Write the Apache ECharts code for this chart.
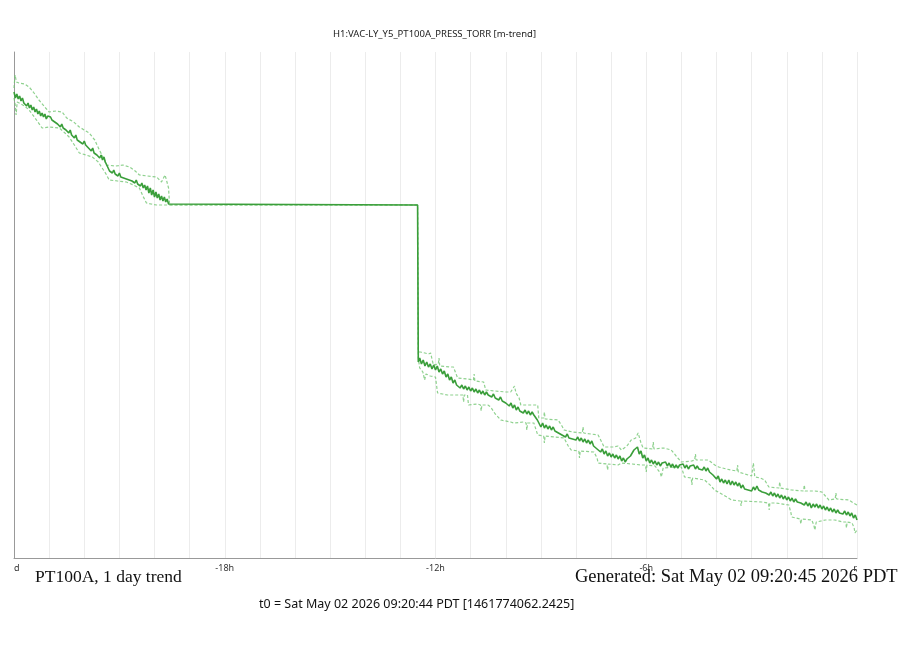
<!DOCTYPE html>
<html>
<head>
<meta charset="utf-8">
<title>PT100A, 1 day trend</title>
<script src="https://cdn.jsdelivr.net/npm/echarts@6/dist/echarts.min.js"></script>
<style>
    html, body { margin: 0; padding: 0; background: #fff; }
    #chart { width: 916px; height: 653px; }
</style>
</head>
<body>
<div id="chart"></div>
<script>
// 数据: [小时, 数值] (y 轴无刻度, 相对单位)
var tickHours = [-24, -18, -12, -6, 0];
var tickLabels = ['d', '-18h', '-12h', '-6h', 'r'];

// 平均值
var meanTrend = [
    [-24.00,466],[-23.96,460],[-23.92,464],[-23.88,459],[-23.84,462],[-23.80,457],[-23.76,460],[-23.72,455],
    [-23.68,457],[-23.64,452],[-23.60,455],[-23.56,450],[-23.52,453],[-23.48,448],[-23.44,451],[-23.40,446],
    [-23.36,449],[-23.32,444],[-23.28,447],[-23.24,442],[-23.20,445],[-23.16,441],[-23.12,444],[-23.08,439],
    [-23.04,442],[-23.00,440],[-22.96,441],[-22.92,438],[-22.88,440],[-22.84,436],[-22.80,438],[-22.76,434],
    [-22.72,436],[-22.68,431],[-22.64,434],[-22.60,430],[-22.56,432],[-22.52,428],[-22.48,430],[-22.44,425],
    [-22.40,428],[-22.36,423],[-22.32,425],[-22.28,420],[-22.24,423],[-22.20,418],[-22.16,420],[-22.12,416],
    [-22.08,418],[-22.04,414],[-22.00,417],[-21.96,413],[-21.92,415],[-21.88,410],[-21.84,412],[-21.80,407],
    [-21.76,410],[-21.72,405],[-21.68,407],[-21.64,403],[-21.60,405],[-21.56,400],[-21.52,403],[-21.48,398],
    [-21.44,401],[-21.40,396],[-21.36,398],[-21.32,390],[-21.28,387],[-21.24,389],[-21.20,385],[-21.16,388],
    [-21.12,384],[-21.08,386],[-21.04,382],[-21.00,385],[-20.96,381],[-20.92,383],[-20.88,380],[-20.84,382],
    [-20.80,379],[-20.76,381],[-20.72,378],[-20.68,380],[-20.64,377],[-20.60,379],[-20.56,375],[-20.52,378],
    [-20.48,374],[-20.44,376],[-20.40,372],[-20.36,375],[-20.32,370],[-20.28,373],[-20.24,368],[-20.20,372],
    [-20.16,365],[-20.12,370],[-20.08,363],[-20.04,368],[-20.00,361],[-19.96,366],[-19.92,360],[-19.88,364],
    [-19.84,358],[-19.80,362],[-19.76,357],[-19.72,361],[-19.68,356],[-19.64,359],[-19.60,354],[-19.57,353],
    [-12.51,353],
    [-12.49,196],[-12.45,200],[-12.40,194],[-12.35,198],[-12.30,192],[-12.25,196],[-12.20,191],[-12.15,194],
    [-12.10,189],[-12.05,193],[-12.00,188],[-11.95,192],[-11.90,186],[-11.85,189],[-11.80,184],[-11.75,187],
    [-11.70,181],[-11.65,184],[-11.60,178],[-11.55,181],[-11.50,175],[-11.45,178],[-11.40,173],[-11.35,175],
    [-11.30,170],[-11.25,173],[-11.20,169],[-11.15,172],[-11.10,168],[-11.05,171],[-11.00,167],[-10.95,170],
    [-10.90,166],[-10.85,169],[-10.80,165],[-10.75,168],[-10.70,164],[-10.65,167],[-10.60,163],[-10.55,166],
    [-10.50,163],[-10.45,165],[-10.40,161],[-10.35,164],[-10.30,160],[-10.25,162],[-10.20,158],[-10.15,161],
    [-10.10,157],[-10.05,159],[-10.00,155],[-9.95,157],[-9.90,152],[-9.85,155],[-9.80,150],[-9.75,153],
    [-9.70,148],[-9.65,151],[-9.60,147],[-9.55,149],[-9.50,145],[-9.45,148],[-9.40,144],[-9.35,147],
    [-9.30,143],[-9.25,146],[-9.20,143],[-9.15,145],[-9.10,138],[-9.05,136],[-9.00,131],[-8.95,135],
    [-8.90,130],[-8.85,133],[-8.80,129],[-8.75,132],[-8.70,128],[-8.65,131],[-8.60,127],[-8.55,129],
    [-8.50,125],[-8.45,127],[-8.40,123],[-8.35,125],[-8.30,121],[-8.25,124],[-8.20,120],[-8.15,122],
    [-8.10,119],[-8.05,121],[-8.00,118],[-7.95,121],[-7.90,117],[-7.85,120],[-7.80,116],[-7.75,119],
    [-7.70,115],[-7.65,118],[-7.60,114],[-7.55,117],[-7.50,112],[-7.45,114],[-7.40,109],[-7.35,111],
    [-7.30,106],[-7.25,109],[-7.20,104],[-7.15,107],[-7.10,102],[-7.05,105],[-7.00,101],[-6.95,104],
    [-6.90,100],[-6.85,103],[-6.80,99],[-6.75,102],[-6.70,97],[-6.65,100],[-6.60,96],[-6.55,99],
    [-6.50,97],[-6.45,102],[-6.40,104],[-6.35,108],[-6.30,106],[-6.25,111],[-6.20,104],[-6.15,107],
    [-6.10,100],[-6.05,103],[-6.00,97],[-5.95,100],[-5.90,95],[-5.85,98],[-5.80,94],[-5.75,97],
    [-5.70,93],[-5.65,96],[-5.60,92],[-5.55,95],[-5.50,93],[-5.45,96],[-5.40,92],[-5.35,95],
    [-5.30,91],[-5.25,94],[-5.20,90],[-5.15,93],[-5.10,90],[-5.05,93],[-5.00,91],[-4.95,94],
    [-4.90,90],[-4.85,93],[-4.80,89],[-4.75,92],[-4.70,90],[-4.65,93],[-4.60,89],[-4.55,92],
    [-4.50,89],[-4.45,91],[-4.40,88],[-4.35,91],[-4.30,87],[-4.25,90],[-4.20,86],[-4.15,88],
    [-4.10,83],[-4.05,85],[-4.00,79],[-3.95,82],[-3.90,76],[-3.85,79],[-3.80,75],[-3.75,78],
    [-3.70,74],[-3.65,78],[-3.60,73],[-3.55,77],[-3.50,73],[-3.45,76],[-3.40,72],[-3.35,75],
    [-3.30,70],[-3.25,73],[-3.20,69],[-3.15,71],[-3.10,68],[-3.05,70],[-3.00,67],[-2.95,71],
    [-2.90,68],[-2.85,72],[-2.80,68],[-2.75,70],[-2.70,66],[-2.65,68],[-2.60,65],[-2.55,67],
    [-2.50,63],[-2.45,66],[-2.40,62],[-2.35,65],[-2.30,61],[-2.25,64],[-2.20,60],[-2.15,63],
    [-2.10,59],[-2.05,62],[-2.00,58],[-1.95,61],[-1.90,57],[-1.85,60],[-1.80,56],[-1.75,59],
    [-1.70,56],[-1.65,58],[-1.60,55],[-1.55,57],[-1.50,53],[-1.45,56],[-1.40,52],[-1.35,55],
    [-1.30,50],[-1.25,54],[-1.20,51],[-1.15,54],[-1.10,50],[-1.05,53],[-1.00,49],[-0.95,52],
    [-0.90,48],[-0.85,51],[-0.80,47],[-0.75,50],[-0.70,46],[-0.65,49],[-0.60,45],[-0.55,48],
    [-0.50,45],[-0.45,47],[-0.40,44],[-0.35,47],[-0.30,43],[-0.25,46],[-0.20,42],[-0.15,45],
    [-0.10,40],[-0.05,43],[0.00,38]
];

// 最大值
var maxTrend = [
    [-24.00,470],[-23.97,483],[-23.93,476],[-23.86,475],[-23.70,474],[-23.57,471],[-23.45,466],[-23.29,458],
    [-23.10,450],[-23.00,446],[-22.80,447],[-22.63,446],[-22.50,440],[-22.30,436],[-22.14,431],[-22.00,428],
    [-21.86,425],[-21.70,418],[-21.57,408],[-21.45,400],[-21.37,393],[-21.10,392],[-20.90,393],[-20.71,391],
    [-20.55,387],[-20.43,383],[-20.20,382],[-19.94,381],[-19.80,376],[-19.70,383],[-19.66,378],[-19.60,370],
    [-19.57,353],[-12.51,353],
    [-12.49,206],[-12.43,206],[-12.30,205],[-12.20,204],[-12.14,205],[-12.06,193],[-11.92,194],[-11.90,200],
    [-11.88,192],[-11.60,191],[-11.49,191],[-11.37,180],[-11.10,179],[-10.92,178],[-10.90,184],[-10.88,177],
    [-10.63,176],[-10.57,168],[-10.30,167],[-10.00,166],[-9.86,166],[-9.75,172],[-9.71,165],[-9.62,160],
    [-9.57,153],[-9.30,153],[-9.09,153],[-9.06,140],[-8.92,140],[-8.90,146],[-8.88,139],[-8.51,138],
    [-8.40,132],[-8.34,128],[-8.10,126],[-7.82,125],[-7.80,131],[-7.78,125],[-7.37,123],[-7.27,116],
    [-7.20,111],[-6.95,111],[-6.80,112],[-6.71,108],[-6.55,112],[-6.43,118],[-6.30,120],[-6.23,125],
    [-6.15,115],[-6.09,110],[-5.82,109],[-5.80,116],[-5.78,109],[-5.50,110],[-5.29,108],[-5.10,100],
    [-5.00,96],[-4.70,97],[-4.62,98],[-4.60,104],[-4.58,98],[-4.23,98],[-4.05,93],[-3.94,91],
    [-3.60,88],[-3.42,87],[-3.40,93],[-3.38,86],[-3.00,82],[-2.95,95],[-2.91,81],[-2.75,80],
    [-2.63,78],[-2.51,71],[-2.22,70],[-2.20,76],[-2.18,70],[-1.86,68],[-1.52,67],[-1.50,73],
    [-1.48,67],[-1.20,67],[-1.00,66],[-0.90,62],[-0.80,58],[-0.62,59],[-0.60,65],[-0.58,59],
    [-0.23,58],[-0.10,55],[0.00,53]
];

// 最小值
var minTrend = [
    [-24.00,460],[-23.96,452],[-23.94,443],[-23.91,456],[-23.86,458],[-23.70,452],[-23.57,448],[-23.40,440],
    [-23.20,430],[-23.00,431],[-22.71,430],[-22.55,425],[-22.43,421],[-22.30,414],[-22.14,405],[-21.95,403],
    [-21.77,401],[-21.60,396],[-21.49,390],[-21.38,384],[-21.29,378],[-21.05,377],[-20.80,376],[-20.60,373],
    [-20.43,370],[-20.33,362],[-20.23,355],[-20.10,354],[-19.94,353],[-19.66,353],[-12.51,353],
    [-12.49,200],[-12.45,190],[-12.43,188],[-12.36,186],[-12.31,178],[-12.27,184],[-12.15,182],[-12.00,181],
    [-11.96,170],[-11.94,165],[-11.80,164],[-11.66,163],[-11.40,163],[-11.22,163],[-11.20,156],[-11.18,163],
    [-11.09,163],[-11.06,153],[-10.80,154],[-10.72,153],[-10.70,147],[-10.68,153],[-10.51,153],[-10.43,151],
    [-10.30,144],[-10.14,138],[-9.86,136],[-9.77,135],[-9.50,136],[-9.42,135],[-9.40,128],[-9.38,135],
    [-9.20,135],[-9.09,123],[-8.92,122],[-8.90,115],[-8.88,122],[-8.60,121],[-8.34,120],[-8.22,112],
    [-8.14,108],[-7.92,107],[-7.90,100],[-7.88,107],[-7.49,106],[-7.40,100],[-7.37,95],[-7.12,94],
    [-7.10,88],[-7.08,94],[-6.80,93],[-6.71,95],[-6.40,94],[-6.14,93],[-6.02,93],[-6.00,86],
    [-5.98,93],[-5.75,92],[-5.60,85],[-5.57,81],[-5.52,90],[-5.20,91],[-5.00,91],[-4.91,81],
    [-4.72,80],[-4.70,73],[-4.68,80],[-4.34,78],[-4.15,72],[-4.06,68],[-3.80,63],[-3.57,58],
    [-3.32,57],[-3.30,52],[-3.28,57],[-2.71,56],[-2.52,55],[-2.50,48],[-2.48,55],[-2.30,55],
    [-1.94,53],[-1.88,45],[-1.86,41],[-1.62,39],[-1.60,34],[-1.58,39],[-1.29,38],[-1.23,33],
    [-1.20,28],[-1.16,36],[-0.90,38],[-0.63,38],[-0.40,36],[-0.32,36],[-0.30,30],[-0.28,36],
    [-0.14,35],[-0.08,30],[-0.06,25],[0.00,28]
];

var myChart = echarts.init(document.getElementById('chart'));

function envelope(name, data) {
    return {
        name: name,
        type: 'line',
        data: data,
        symbol: 'none',
        z: 2,
        lineStyle: {
            color: '#72c672',
            width: 1.2,
            type: [3, 2],
            opacity: 0.8
        }
    };
}

var option = {
    backgroundColor: '#fff',
    animation: false,
    grid: {
        left: 14,
        right: 59,
        top: 52,
        bottom: 95
    },
    xAxis: {
        type: 'value',
        min: -24,
        max: 0,
        interval: 1,
        axisLine: {
            onZero: false,
            lineStyle: { color: '#999', width: 1 }
        },
        axisTick: { show: false },
        splitLine: {
            show: true,
            lineStyle: { color: '#ececec', width: 1 }
        },
        axisLabel: {
            color: '#333',
            fontSize: 9,
            fontFamily: 'Noto Sans',
            margin: 6,
            alignMinLabel: 'left',
            alignMaxLabel: 'right',
            formatter: function (v) {
                var i = tickHours.indexOf(v);
                return i >= 0 ? tickLabels[i] : '';
            }
        }
    },
    yAxis: {
        type: 'value',
        min: 0,
        max: 506,
        axisLine: {
            show: true,
            onZero: false,
            lineStyle: { color: '#999', width: 1 }
        },
        axisTick: { show: false },
        axisLabel: { show: false },
        splitLine: { show: false }
    },
    series: [
        envelope('max', maxTrend),
        envelope('min', minTrend),
        {
            name: 'mean',
            type: 'line',
            data: meanTrend,
            symbol: 'none',
            z: 3,
            lineStyle: {
                color: '#3a9e3a',
                width: 1.6
            }
        }
    ],
    graphic: [
        {
            type: 'text',
            left: 333,
            top: 29,
            style: {
                text: 'H1:VAC-LY_Y5_PT100A_PRESS_TORR [m-trend]',
                font: '9.5px "Noto Sans"',
                fill: '#222'
            }
        },
        {
            type: 'text',
            left: 35,
            top: 568,
            style: {
                text: 'PT100A, 1 day trend',
                font: '17.5px "Liberation Serif"',
                fill: '#111'
            }
        },
        {
            type: 'text',
            left: 575,
            top: 568,
            style: {
                text: 'Generated: Sat May 02 09:20:45 2026 PDT',
                font: '18.5px "Liberation Serif"',
                fill: '#111',
                backgroundColor: '#fff',
                width: 325,
                overflow: 'truncate',
                ellipsis: ''
            }
        },
        {
            type: 'text',
            left: 259,
            top: 598,
            style: {
                text: 't0 = Sat May 02 2026 09:20:44 PDT [1461774062.2425]',
                font: '12.5px "Noto Sans"',
                fill: '#111'
            }
        }
    ]
};

myChart.setOption(option);
window.addEventListener('resize', function () {
    myChart.resize();
});
</script>
</body>
</html>
